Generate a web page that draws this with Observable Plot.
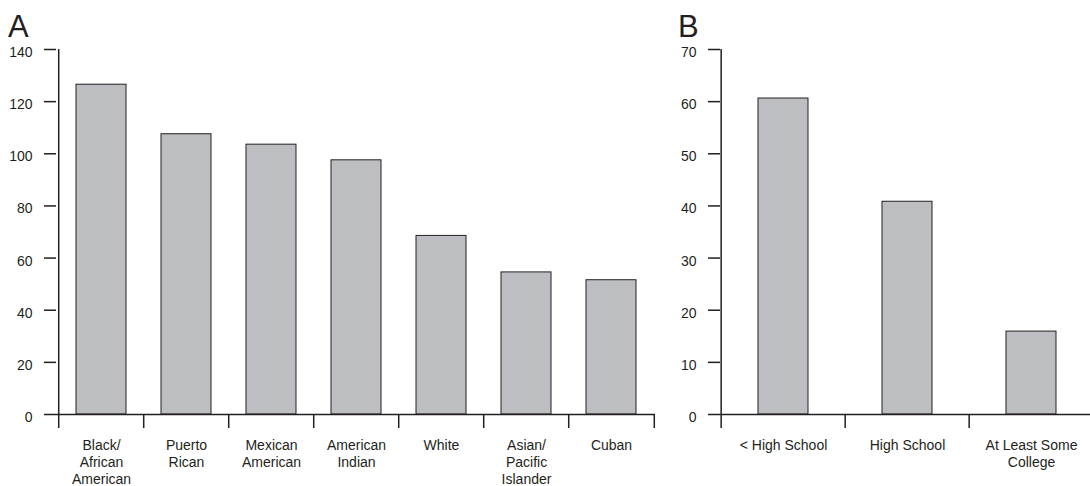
<!DOCTYPE html>
<html>
<head>
<meta charset="utf-8">
<script src="https://cdn.jsdelivr.net/npm/d3@7"></script>
<script src="https://cdn.jsdelivr.net/npm/@observablehq/plot@0.6"></script>
<style>
  html, body { margin: 0; padding: 0; background: #fff; }
  #wrap { position: relative; width: 1090px; height: 486px; overflow: hidden; }
  .panel { position: absolute; top: 0; }
  .panel svg { max-width: none !important; display: block; }
  .plabel { position: absolute; font-family: "Liberation Sans", Arial, sans-serif; font-size: 31px; line-height: 1; color: #231f20; }
</style>
</head>
<body>
<div id="wrap">
  <div id="pa" class="panel" style="left:0px; width:670px"></div>
  <div id="pb" class="panel" style="left:670px; width:424px"></div>
  <div class="plabel" style="left:8px; top:11px">A</div>
  <div class="plabel" style="left:678px; top:11px">B</div>
</div>
<script>
const categoriesA = ["Black/\nAfrican\nAmerican", "Puerto\nRican", "Mexican\nAmerican", "American\nIndian", "White", "Asian/\nPacific\nIslander", "Cuban"];
const valuesA = [126.5, 107.5, 103.5, 97.5, 68.5, 54.5, 51.5];
const yTicksA = [0, 20, 40, 60, 80, 100, 120, 140];

const categoriesB = ["< High School", "High School", "At Least Some\nCollege"];
const valuesB = [60.6, 40.8, 15.9];
const yTicksB = [0, 10, 20, 30, 40, 50, 60, 70];

const ink = "#231f20";
const barFill = "#bdbec2";

function panel({categories, values, yTicks, width, marginLeft, marginRight, padInner}) {
  const data = categories.map((c, i) => ({category: c, value: values[i]}));
  const height = 486, marginTop = 49, marginBottom = 72;
  const step = (width - marginLeft - marginRight) / categories.length;
  const last = categories[categories.length - 1];
  return Plot.plot({
    width, height, marginTop, marginBottom, marginLeft, marginRight,
    style: {fontFamily: "'Liberation Sans', Arial, sans-serif", fontSize: "14px", color: ink, background: "transparent", overflow: "visible"},
    x: {type: "band", domain: categories, paddingInner: padInner, paddingOuter: padInner / 2},
    y: {domain: [yTicks[0], yTicks[yTicks.length - 1]], nice: false},
    marks: [
      Plot.barY(data, {x: "category", y: "value", fill: barFill, stroke: ink, strokeWidth: 1}),
      Plot.ruleY([0], {stroke: ink, strokeWidth: 1.5}),
      Plot.ruleX([categories[0]], {dx: -step / 2, stroke: ink, strokeWidth: 1.5}),
      Plot.axisY({ticks: yTicks, tickSize: 12, tickFormat: () => "", stroke: ink, strokeWidth: 1.5, label: null}),
      Plot.axisY({ticks: yTicks, tickSize: 0, tickPadding: 24, dy: 3, fill: ink, label: null}),
      Plot.axisX({tickSize: 14, tickFormat: () => "", dx: -step / 2, stroke: ink, strokeWidth: 1.5, label: null}),
      Plot.axisX({ticks: [last], tickSize: 14, tickFormat: () => "", dx: step / 2, stroke: ink, strokeWidth: 1.5, label: null}),
      Plot.axisX({tickSize: 0, tickPadding: 24, lineHeight: 1.2, fill: ink, label: null})
    ]
  });
}

document.getElementById("pa").append(panel({
  categories: categoriesA, values: valuesA, yTicks: yTicksA,
  width: 670, marginLeft: 56, marginRight: 15, padInner: 0.416
}));
document.getElementById("pb").append(panel({
  categories: categoriesB, values: valuesB, yTicks: yTicksB,
  width: 424, marginLeft: 50, marginRight: 0, padInner: 0.6
}));
</script>
</body>
</html>
